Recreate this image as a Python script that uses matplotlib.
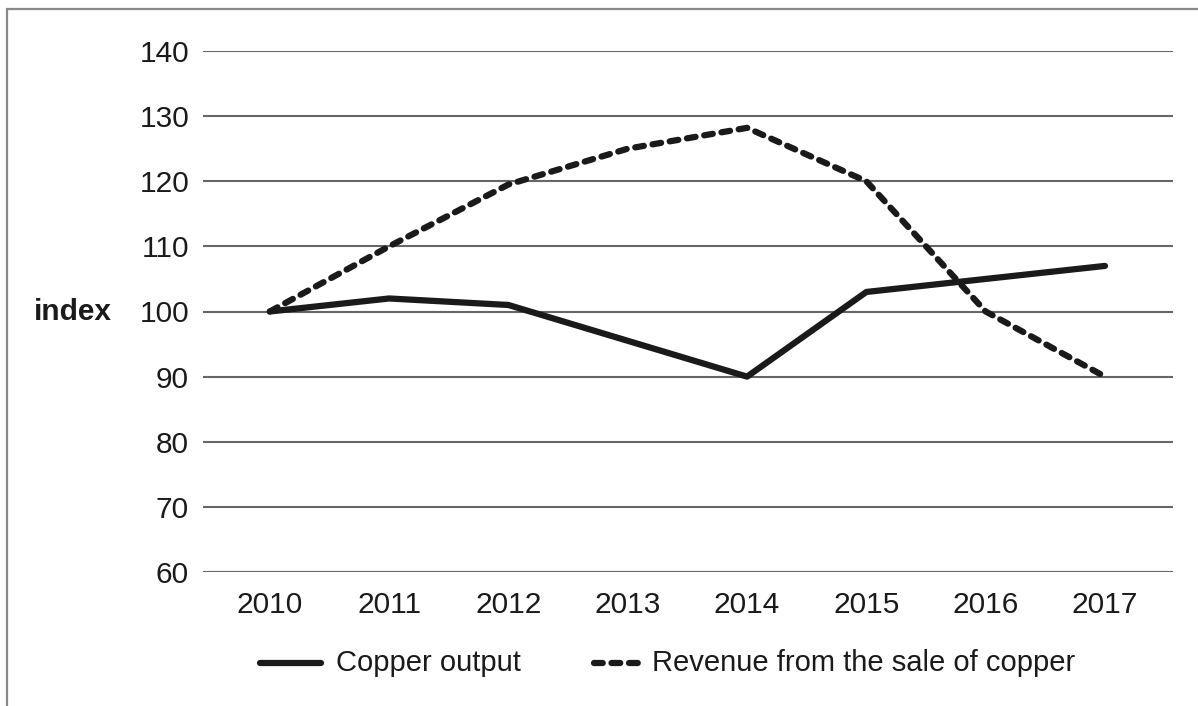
import matplotlib
matplotlib.use("Agg")
import matplotlib.pyplot as plt
from matplotlib.patches import Rectangle
from matplotlib.lines import Line2D

plt.rcParams['font.family'] = ['Liberation Sans', 'DejaVu Sans']

years = [2010, 2011, 2012, 2013, 2014, 2015, 2016, 2017]
copper_output = [100, 102, 101, 95.5, 90, 103, 105, 107]
copper_revenue = [100, 110, 119.5, 125, 128.2, 120, 100, 90]
yticks = [60, 70, 80, 90, 100, 110, 120, 130, 140]
labels = ["Copper output", "Revenue from the sale of copper"]

W, H = 1198, 706
INK = "#1a1a1a"
DASH = (0, (1.4, 1.4))
fig = plt.figure(figsize=(W / 100, H / 100), dpi=100)
ax = fig.add_axes([203 / W, 1 - 572 / H, 970 / W, 521 / H])

# grey frame round the figure (open at bottom/right edges)
fig.patches.append(Rectangle((7 / W, -0.1), 1.2, 1 - 9 / H + 0.1,
                             transform=fig.transFigure, fill=False,
                             edgecolor="#888888", lw=1.6))

for y in yticks:
    ax.axhline(y, color="#666666", lw=1.5, zorder=1)

ax.plot(years, copper_output, color=INK, lw=4.5,
        solid_capstyle="round", solid_joinstyle="round", zorder=3)
ax.plot(years, copper_revenue, color=INK, lw=4.5,
        linestyle=DASH, dash_capstyle="round", zorder=3)

ax.set_xlim(2009.44, 2017.57)
ax.set_ylim(60, 140)
ax.set_xticks(years)
ax.set_yticks(yticks)
ax.tick_params(length=0, labelsize=21.5, colors=INK)
ax.tick_params(axis="y", pad=10)
ax.tick_params(axis="x", pad=14)
for s in ax.spines.values():
    s.set_visible(False)

ax.set_ylabel("index", rotation=0, fontsize=21.5, fontweight="bold",
              color=INK, ha="center", va="center")
ax.yaxis.set_label_coords(-0.134, 0.5)

# legend drawn by hand: the two keys have different lengths
ly = 1 - 663 / H
fig.add_artist(Line2D([260 / W, 321 / W], [ly, ly], color=INK, lw=4.5,
                      solid_capstyle="round"))
fig.text(336 / W, ly, labels[0], fontsize=21, color=INK, va="center")
fig.add_artist(Line2D([594 / W, 640 / W], [ly, ly], color=INK, lw=4.5,
                      linestyle=DASH, dash_capstyle="round"))
fig.text(652 / W, ly, labels[1], fontsize=21, color=INK, va="center")

fig.savefig("out.png", dpi=100)
